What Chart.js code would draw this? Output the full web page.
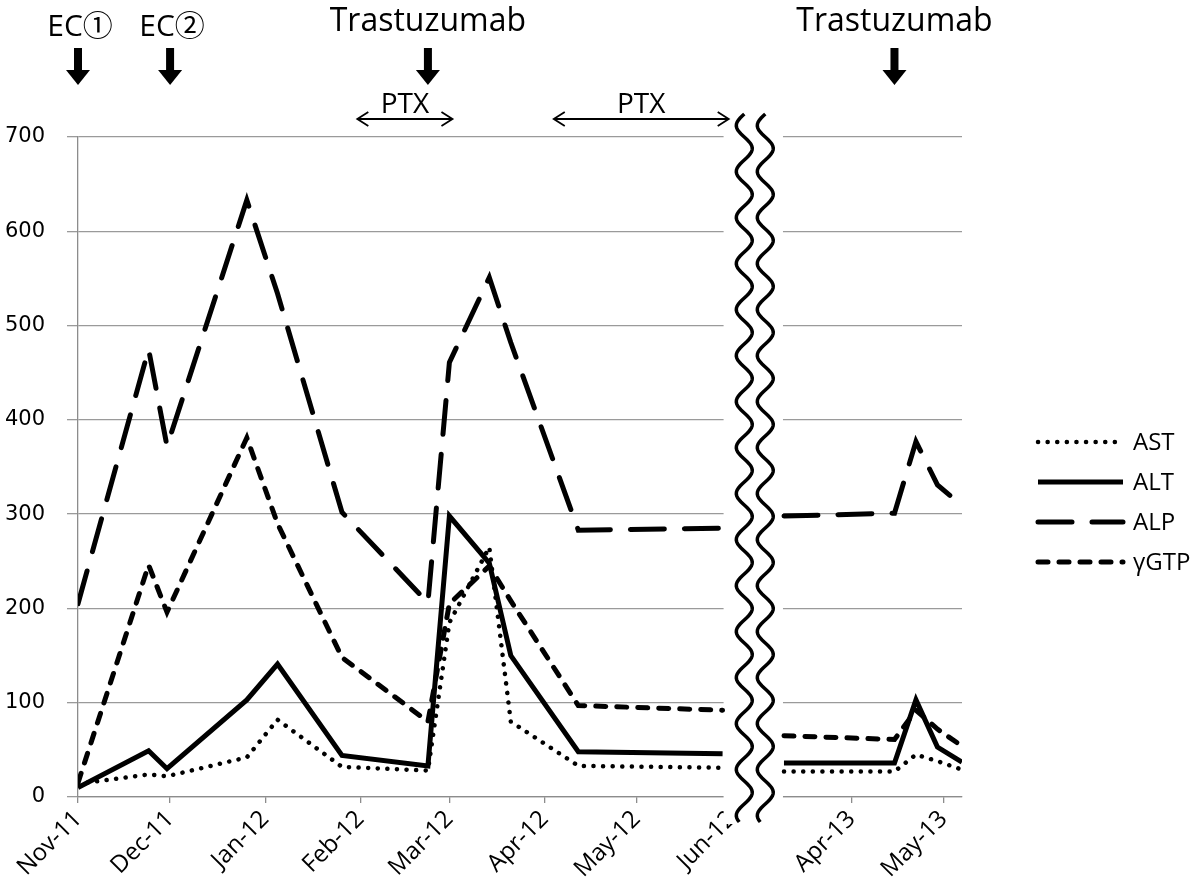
<!DOCTYPE html>
<html lang="en">
<head>
<meta charset="UTF-8">
<title>AST / ALT / ALP / γGTP</title>
<script src="https://cdn.jsdelivr.net/npm/chart.js"></script>
<style>
  html, body { margin: 0; padding: 0; background: #fff; }
  #wrap { width: 1200px; height: 884px; }
</style>
</head>
<body>
<div id="wrap"><canvas id="labChart"></canvas></div>
<script>
// sampling dates, before and after the axis break
const dates = [
  '2011-11-01', '2011-11-24', '2011-11-30', '2011-12-26', '2012-01-05', '2012-01-26',
  '2012-02-23', '2012-03-01', '2012-03-14', '2012-03-21', '2012-04-12', '2012-05-29',
  '2013-03-10', '2013-04-15', '2013-04-22', '2013-04-29', '2013-05-07'
];
const ast  = [14, 24, 22, 42, 82, 32, 28, 185, 265, 80, 33, 31,   27, 27, 45, 38, 29];
const alt  = [10, 49, 30, 103, 141, 44, 33, 298, 248, 150, 48, 46,   36, 36, 103, 53, 37];
const alp  = [205, 475, 372, 633, 534, 302, 206, 461, 551, 482, 283, 285,   298, 301, 377, 331, 309];
const ggtp = [15, 246, 196, 381, 290, 148, 80, 205, 245, 208, 97, 92,   65, 61, 92, 72, 54];

const tickDates  = ['2011-11-01', '2011-12-01', '2012-01-01', '2012-02-01', '2012-03-01',
                    '2012-04-01', '2012-05-01', '2012-06-01', '2013-04-01', '2013-05-01'];
const tickLabels = ['Nov-11', 'Dec-11', 'Jan-12', 'Feb-12', 'Mar-12',
                    'Apr-12', 'May-12', 'Jun-12', 'Apr-13', 'May-13'];

// treatment marks above the plot
const events     = ['EC①', 'EC②', 'Trastuzumab', 'Trastuzumab'];
const eventDates = ['2011-11-01', '2011-12-01', '2012-02-23', '2013-04-15'];
const ptxStart   = ['2012-01-31', '2012-04-04'];
const ptxEnd     = ['2012-03-02', '2012-05-31'];

// axis position in days; 2013 is moved next to 2012 (broken axis)
const DAY = 864e5;
const START = Date.UTC(2011, 10, 1);
const RESUME = Date.UTC(2013, 3, 1);
const RESUME_AT = 252;
function toX(s) {
  const t = Date.parse(s);
  return s < '2013' ? (t - START) / DAY : RESUME_AT + (t - RESUME) / DAY;
}
const lastLeft = dates.filter(d => d < '2013').pop();
const firstRight = dates.find(d => d >= '2013');

function points(vals) {
  const pts = [];
  dates.forEach((d, i) => {
    if (d === firstRight) pts.push({ x: (toX(lastLeft) + toX(d)) / 2, y: null });
    pts.push({ x: toX(d), y: vals[i] });
  });
  return pts;
}

const FONT = '"Open Sans", "Noto Sans CJK JP", sans-serif';

const decorations = {
  id: 'decorations',
  beforeDatasetsDraw(chart) {
    const { ctx, chartArea, scales: { x } } = chart;
    const x0 = x.getPixelForValue(toX(lastLeft)) + 1;
    const x1 = x.getPixelForValue(toX(firstRight)) - 1;
    ctx.save();
    ctx.fillStyle = '#fff';
    ctx.fillRect(x0, chartArea.top - 3, x1 - x0, chartArea.bottom - chartArea.top + 30);
    ctx.restore();
  },
  afterDraw(chart) {
    const { ctx, chartArea, scales: { x } } = chart;
    ctx.save();

    // wavy break marks
    const x0 = x.getPixelForValue(toX(lastLeft));
    const x1 = x.getPixelForValue(toX(firstRight));
    const mid = (x0 + x1) / 2;
    ctx.strokeStyle = '#000';
    ctx.lineWidth = 3.5;
    [mid - 9, mid + 12].forEach(cx => {
      ctx.beginPath();
      for (let y = 114; y <= 822; y += 2) {
        const px = cx - 8 * Math.sin((y - 114) / 46 * Math.PI * 2);
        if (y === 114) ctx.moveTo(px, y); else ctx.lineTo(px, y);
      }
      ctx.stroke();
    });

    // treatment arrows
    ctx.fillStyle = '#000';
    ctx.textAlign = 'center';
    ctx.textBaseline = 'alphabetic';
    events.forEach((label, i) => {
      const ex = x.getPixelForValue(toX(eventDates[i]));
      ctx.font = (label.startsWith('EC') ? '30px ' : '32px ') + FONT;
      ctx.fillText(label, ex + (label.startsWith('EC') ? 2 : 0), label.startsWith('EC') ? 36 : 31);
      ctx.fillRect(ex - 4, 48, 8, 23);
      ctx.beginPath();
      ctx.moveTo(ex - 12, 70);
      ctx.lineTo(ex + 12, 70);
      ctx.lineTo(ex, 85);
      ctx.closePath();
      ctx.fill();
    });

    // PTX periods
    ctx.font = '28px ' + FONT;
    ctx.lineWidth = 1.8;
    ptxStart.forEach((s, i) => {
      const a = x.getPixelForValue(toX(s));
      const b = x.getPixelForValue(toX(ptxEnd[i]));
      const y = 119;
      ctx.fillText('PTX', (a + b) / 2, 113);
      ctx.beginPath();
      ctx.moveTo(a, y); ctx.lineTo(b, y);
      ctx.moveTo(a + 11, y - 7); ctx.lineTo(a, y); ctx.lineTo(a + 11, y + 7);
      ctx.moveTo(b - 11, y - 7); ctx.lineTo(b, y); ctx.lineTo(b - 11, y + 7);
      ctx.stroke();
    });

    // legend
    const lx = chartArea.right + 76;
    ctx.textAlign = 'left';
    ctx.textBaseline = 'middle';
    ctx.font = '24px ' + FONT;
    chart.data.datasets.forEach((ds, i) => {
      const ly = 442 + i * 40;
      ctx.beginPath();
      ctx.setLineDash(ds.borderDash || []);
      ctx.lineCap = ds.borderCapStyle || 'butt';
      ctx.lineWidth = ds.borderWidth;
      ctx.moveTo(lx, ly);
      ctx.lineTo(lx + 85, ly);
      ctx.stroke();
      ctx.setLineDash([]);
      ctx.fillText(ds.label, lx + 95, ly + 1);
    });
    ctx.restore();
  }
};

new Chart(document.getElementById('labChart'), {
  type: 'line',
  data: {
    datasets: [
      { label: 'AST', data: points(ast), borderColor: '#000', borderWidth: 4.5,
        borderDash: [0.1, 9.5], borderCapStyle: 'round' },
      { label: 'ALT', data: points(alt), borderColor: '#000', borderWidth: 5 },
      { label: 'ALP', data: points(alp), borderColor: '#000', borderWidth: 5,
        borderDash: [34, 20], borderCapStyle: 'round' },
      { label: 'γGTP', data: points(ggtp), borderColor: '#000', borderWidth: 5,
        borderDash: [10, 11], borderCapStyle: 'round' }
    ]
  },
  options: {
    responsive: true,
    maintainAspectRatio: false,
    animation: false,
    layout: { padding: { top: 137, right: 238, left: 0, bottom: 0 } },
    elements: {
      point: { radius: 0, hoverRadius: 0 },
      line: { tension: 0, borderJoinStyle: 'miter', fill: false }
    },
    plugins: { legend: { display: false }, tooltip: { enabled: false } },
    scales: {
      x: {
        type: 'linear',
        min: 0,
        max: 288,
        afterBuildTicks: s => { s.ticks = tickDates.map(d => ({ value: toX(d) })); },
        afterFit: s => { s.height = 87; },
        grid: { drawOnChartArea: false, tickLength: 6, color: '#8c8c8c', lineWidth: 1.3 },
        border: { color: '#8c8c8c', width: 1.3 },
        ticks: {
          autoSkip: false, maxRotation: 45, minRotation: 45, padding: 2, color: '#000',
          font: { family: FONT, size: 24 },
          callback: (v, i) => tickLabels[i]
        }
      },
      y: {
        min: 0,
        max: 700,
        afterFit: s => { s.width = 78; },
        grid: { color: '#9a9a9a', lineWidth: 1.3, tickLength: 11 },
        border: { color: '#8c8c8c', width: 1.3 },
        ticks: { stepSize: 100, padding: 22, color: '#000', font: { family: 'DejaVu Sans', size: 21 } }
      }
    }
  },
  plugins: [decorations]
});
</script>
</body>
</html>
